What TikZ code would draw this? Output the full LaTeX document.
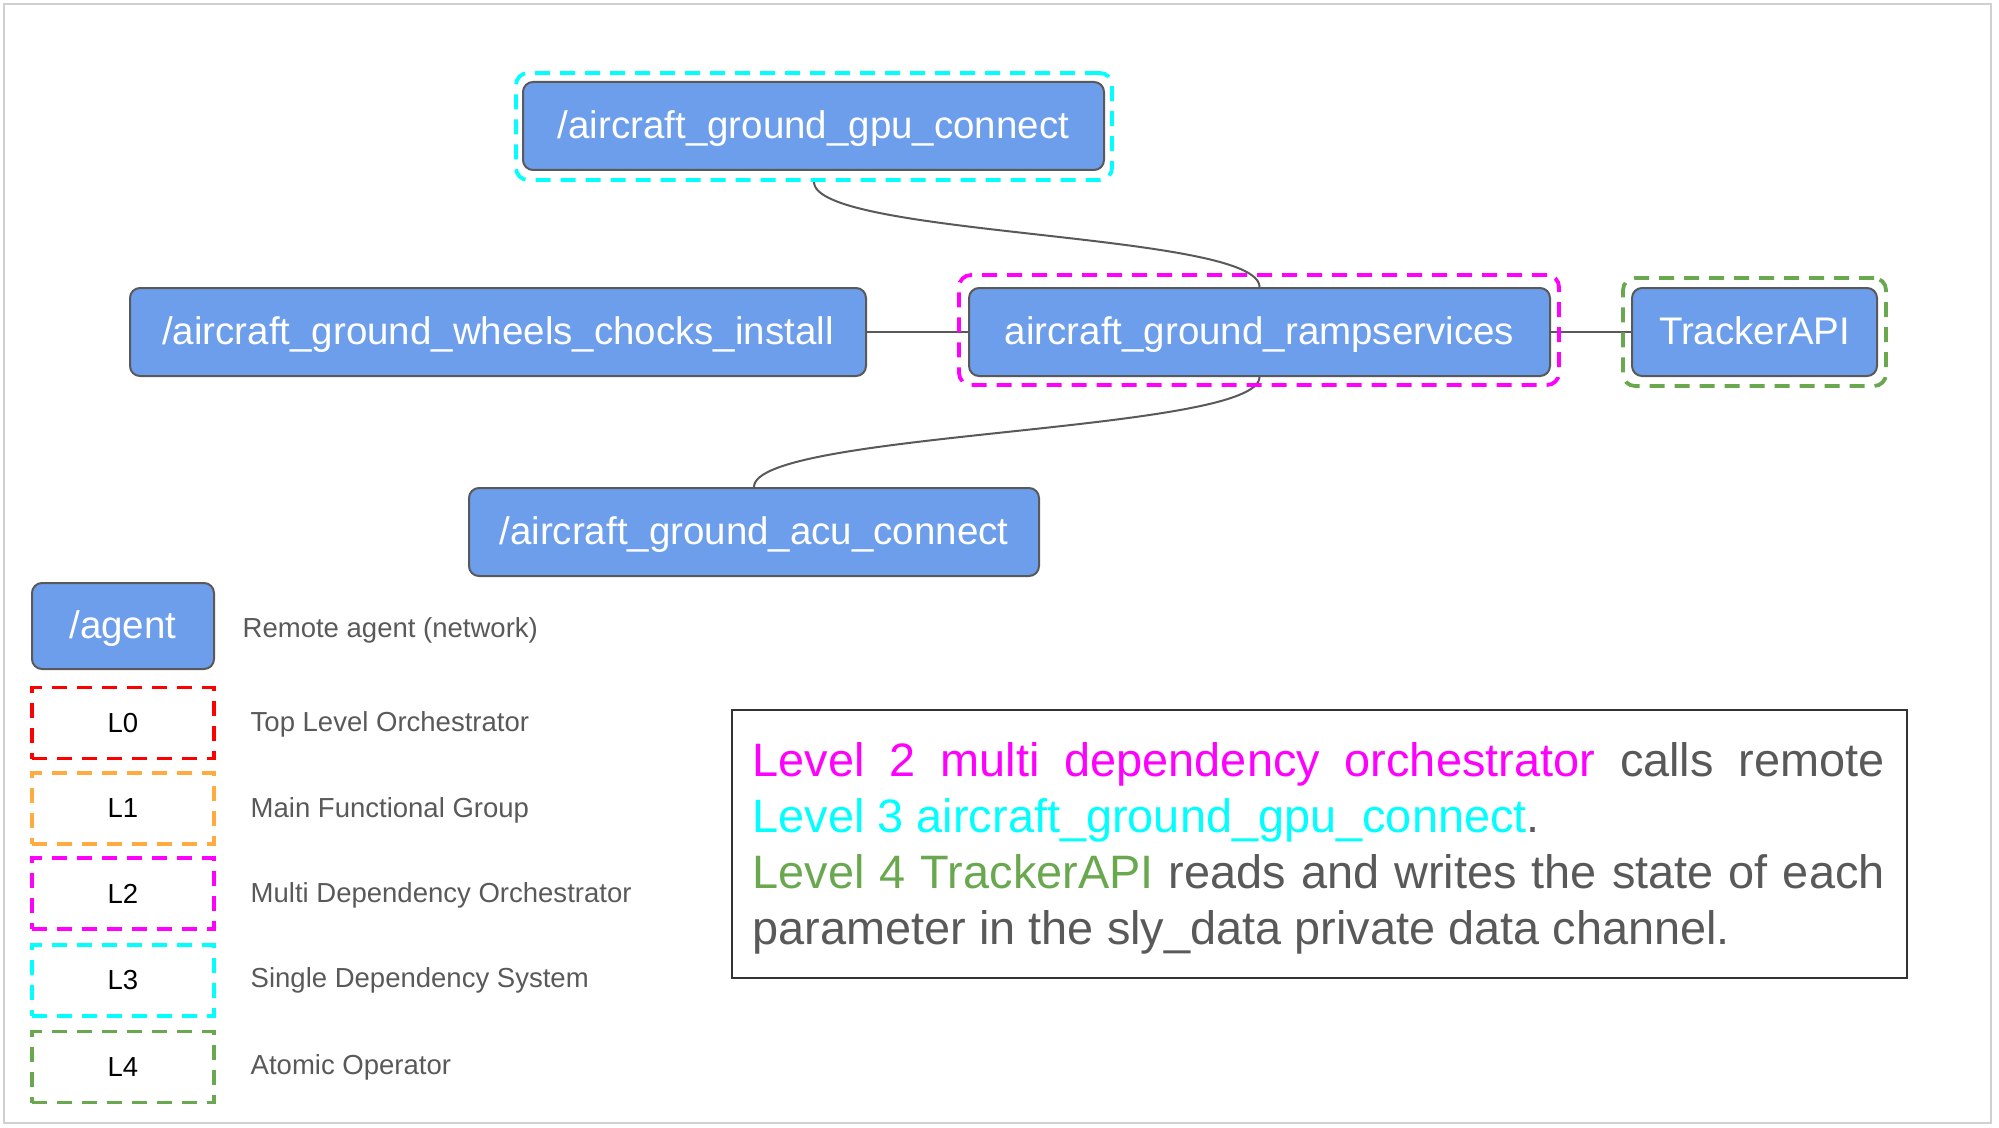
\documentclass[tikz,border=0pt]{standalone}
\usepackage{fontspec}
\setmainfont{Liberation Sans}
\usetikzlibrary{fit}
\definecolor{nodeblue}{HTML}{6D9EEB}
\definecolor{edgegray}{HTML}{595959}
\definecolor{txtgray}{HTML}{595959}
\definecolor{lzero}{HTML}{FF0000}
\definecolor{lone}{HTML}{FFAB40}
\definecolor{ltwo}{HTML}{FF00FF}
\definecolor{lthree}{HTML}{00FFFF}
\definecolor{lfour}{HTML}{6AA84F}
\definecolor{framegray}{HTML}{D0D0D0}
\pgfdeclarelayer{bg}
\pgfsetlayers{bg,main}
\begin{document}
\begin{tikzpicture}[x=0.1mm,y=-0.1mm,
  svc/.style={draw=edgegray, line width=0.2mm, fill=nodeblue, rounded corners=1mm, text=white,
    font=\fontsize{10.95}{13}\selectfont, inner sep=0pt, minimum height=8.8mm,
    text height=0.73em, text depth=0.02em},
  grp/.style={draw=#1, line width=0.38mm, dash pattern=on 1.5mm off 1mm, rounded corners=1.2mm, inner sep=0pt},
  lgd/.style={draw=#1, line width=0.35mm, dash pattern=on 1.5mm off 1mm, minimum width=18.2mm,
    minimum height=7.1mm, inner sep=0pt, font=\fontsize{7.83}{9}\selectfont, text=black},
  lgdtxt/.style={anchor=west, text=txtgray, font=\fontsize{7.83}{9}\selectfont, inner sep=0pt},
  link/.style={draw=edgegray, line width=0.2mm},
  para/.style={anchor=base west, inner sep=0pt, text=txtgray, font=\fontsize{13.34}{16}\selectfont}
]
\useasboundingbox (0,0) rectangle (1999,1128);
\draw[framegray, line width=0.2mm] (4,4) rectangle (1991,1123);

% service nodes
\node[svc, minimum width=58.1mm] (gpu) at (813.5,126) {/aircraft\_ground\_gpu\_connect};
\node[svc, minimum width=73.6mm] (wheels) at (498,332) {/aircraft\_ground\_wheels\_chocks\_install};
\node[svc, minimum width=58.1mm] (ramp) at (1259.5,332) {aircraft\_ground\_rampservices};
\node[svc, minimum width=24.5mm] (tracker) at (1754.5,332) {TrackerAPI};
\node[svc, minimum width=57mm] (acu) at (754,532) {/aircraft\_ground\_acu\_connect};

% level groups
\node[grp=lthree, minimum width=59.6mm, minimum height=10.7mm] (gpuG) at (814,126.5) {};
\node[grp=ltwo, minimum width=60mm, minimum height=11mm] (rampG) at (1259,330) {};
\node[grp=lfour, minimum width=26.3mm, minimum height=10.8mm] (trackerG) at (1754.5,332) {};

% connectors
\begin{pgfonlayer}{bg}
\draw[link] (gpuG.south) .. controls +(0,55) and +(0,-55) .. (ramp.north);
\draw[link] (ramp.south) .. controls +(0,56) and +(0,-56) .. (acu.north);
\draw[link] (wheels.east) -- (ramp.west);
\draw[link] (ramp.east) -- (tracker.west);
\end{pgfonlayer}

% legend
\node[svc, minimum width=18.2mm, minimum height=8.6mm] (agent) at (123,626) {/agent};
\node[lgdtxt] (agentt) at (242,630) {Remote agent (network)};
\node[lgd=lzero] (l0) at (123,723) {L0};
\node[lgdtxt] (l0t) at (250,724) {Top Level Orchestrator};
\node[lgd=lone] (l1) at (123,808.5) {L1};
\node[lgdtxt] (l1t) at (250,810) {Main Functional Group};
\node[lgd=ltwo] (l2) at (123,893.5) {L2};
\node[lgdtxt] (l2t) at (250,895) {Multi Dependency Orchestrator};
\node[lgd=lthree] (l3) at (123,980.5) {L3};
\node[lgdtxt] (l3t) at (250,980) {Single Dependency System};
\node[lgd=lfour] (l4) at (123,1067) {L4};
\node[lgdtxt] (l4t) at (250,1067) {Atomic Operator};

% description box
\node[draw=black!80, line width=0.2mm, minimum width=117.5mm, minimum height=26.8mm, inner sep=0pt] (desc) at (1319.5,844) {};
\node[para] (p1) at (752,776) {\makebox[113.2mm][s]{\textcolor{ltwo}{Level 2 multi dependency orchestrator} calls remote}};
\node[para] (p2) at (752,832) {\textcolor{lthree}{Level 3 aircraft\_ground\_gpu\_connect}.};
\node[para] (p3) at (752,888) {\makebox[113.2mm][s]{\textcolor{lfour}{Level 4 TrackerAPI} reads and writes the state of each}};
\node[para] (p4) at (752,944) {parameter in the sly\_data private data channel.};
\end{tikzpicture}
\end{document}
